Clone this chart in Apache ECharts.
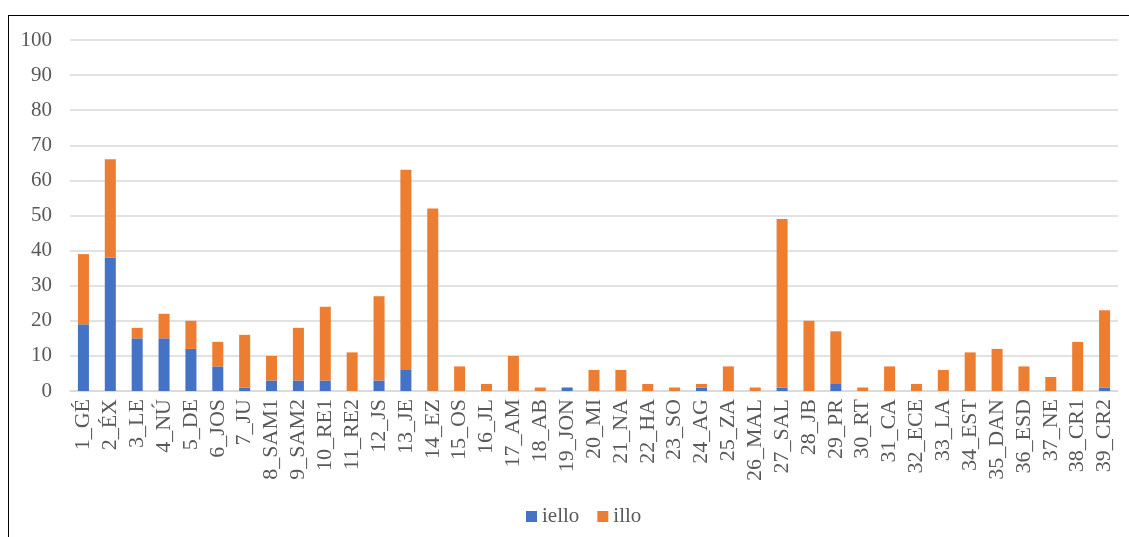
<!DOCTYPE html>
<html>
<head>
<meta charset="utf-8">
<script src="https://cdn.jsdelivr.net/npm/echarts@6/dist/echarts.min.js"></script>
<style>
  html, body { margin: 0; padding: 0; background: #fff; }
  #frame { position: absolute; left: 8px; top: 15px; width: 1300px; height: 700px;
           border: 1.5px solid #000; box-sizing: border-box; }
  #chart { position: absolute; left: 0; top: 0; width: 1129px; height: 537px; }
</style>
</head>
<body>
<div id="frame"></div>
<div id="chart"></div>
<script>
const categories = ['1_GÉ','2_ÉX','3_LE','4_NÚ','5_DE','6_JOS','7_JU','8_SAM1','9_SAM2','10_RE1',
  '11_RE2','12_JS','13_JE','14_EZ','15_OS','16_JL','17_AM','18_AB','19_JON','20_MI',
  '21_NA','22_HA','23_SO','24_AG','25_ZA','26_MAL','27_SAL','28_JB','29_PR','30_RT',
  '31_CA','32_ECE','33_LA','34_EST','35_DAN','36_ESD','37_NE','38_CR1','39_CR2'];

const ielloValues = [19,38,15,15,12,7,1,3,3,3,
  0,3,6,0,0,0,0,0,1,0,
  0,0,0,1,0,0,1,0,2,0,
  0,0,0,0,0,0,0,0,1];

const illoValues = [20,28,3,7,8,7,15,7,15,21,
  11,24,57,52,7,2,10,1,0,6,
  6,2,1,1,7,1,48,20,15,1,
  7,2,6,11,12,7,4,14,22];

const yTicks = { min: 0, max: 100, interval: 10 };

const font = '"Liberation Serif", "DejaVu Serif", serif';
const textColor = '#595959';

const chart = echarts.init(document.getElementById('chart'), null, { renderer: 'canvas' });
chart.setOption({
  backgroundColor: 'transparent',
  animation: false,
  grid: { left: 70, right: 11, top: 40, bottom: 146, containLabel: false },
  legend: {
    bottom: 5,
    left: 521,
    itemWidth: 11,
    itemHeight: 11,
    itemGap: 18,
    itemTextGap: 3,
    icon: 'rect',
    textStyle: { fontFamily: font, fontSize: 21, color: textColor },
    data: ['iello', 'illo']
  },
  xAxis: {
    type: 'category',
    data: categories,
    axisLine: { lineStyle: { color: '#d9d9d9', width: 1.5 } },
    axisTick: { show: false },
    axisLabel: {
      rotate: 90,
      interval: 0,
      margin: 8,
      fontFamily: font,
      fontSize: 22,
      color: textColor
    }
  },
  yAxis: {
    type: 'value',
    min: yTicks.min,
    max: yTicks.max,
    interval: yTicks.interval,
    axisLine: { show: false },
    axisTick: { show: false },
    splitLine: { lineStyle: { color: '#d9d9d9', width: 1.5 } },
    axisLabel: { fontFamily: font, fontSize: 21, color: textColor, margin: 18 }
  },
  series: [
    {
      name: 'iello',
      type: 'bar',
      stack: 'total',
      data: ielloValues,
      barWidth: '41%',
      itemStyle: { color: '#4472C4' }
    },
    {
      name: 'illo',
      type: 'bar',
      stack: 'total',
      data: illoValues,
      barWidth: '41%',
      itemStyle: { color: '#ED7D31' }
    }
  ]
});
</script>
</body>
</html>
